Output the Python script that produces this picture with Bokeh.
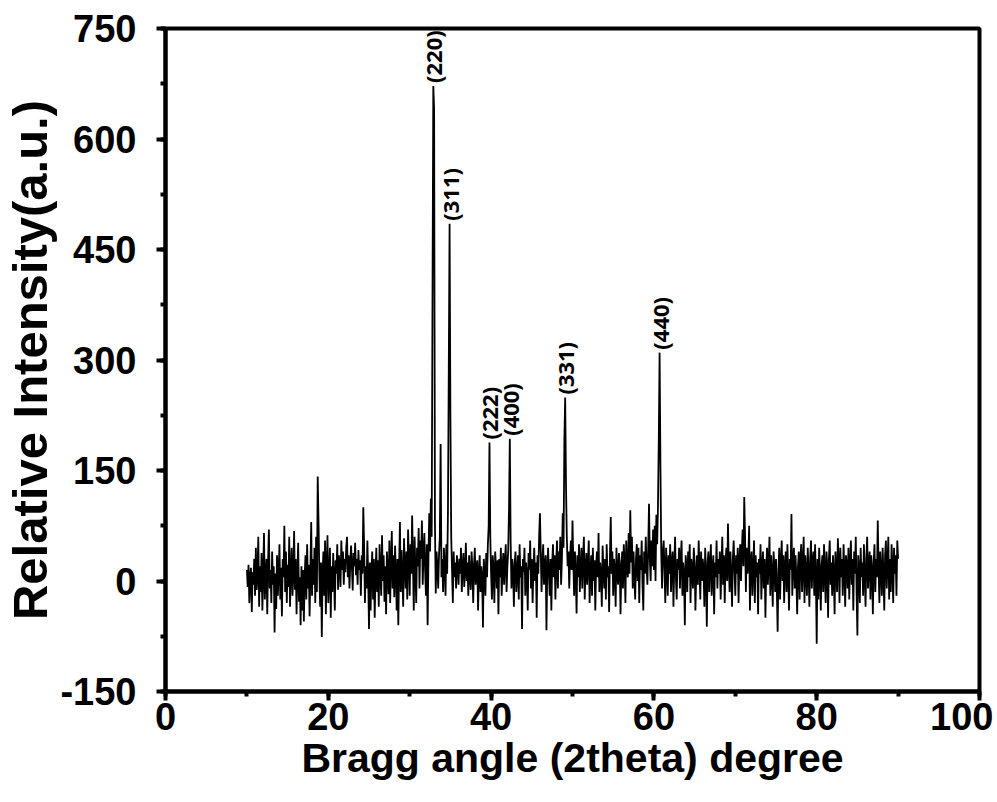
import math
from bokeh.plotting import figure
from bokeh.models import Range1d, SingleIntervalTicker, ColumnDataSource, CustomJSTickFormatter
from bokeh.core.properties import value
from bokeh.embed import file_html
from bokeh.resources import INLINE

# ---- data ----
angle_start = 10.0
angle_step = 0.1
intensity = [
    15, -8, 22, -30, 5, 18, -42, 12, -5, 30,          # 10
    -20, 45, -12, 8, 60, -35, 20, -15, 38, -40,       # 11
    10, 65, -25, 5, 30, -45, 25, 70, -10, 15,         # 12
    -30, 40, -5, 20, -70, 10, -38, 35, -20, 12,       # 13
    50, -25, 18, -48, 30, 5, 75, -15, 40, -30,        # 14
    22, -8, 60, -35, 15, 45, -20, 8, 68, -12,         # 15
    30, -45, 10, 52, -28, 5, -60, 20, -40, 15,        # 16
    -55, 8, 35, -25, 50, -10, 22, -48, 12, 80,        # 17
    -20, 30, -5, 45, -30, 60, -15, 142, 80, 10,       # 18
    -35, 25, -76, 12, 40, -20, 55, -45, 18, 62,       # 19
    -30, 8, 45, -50, 20, -15, 38, 5, -40, 28,         # 20
    10, 50, -12, 35, 20, -8, 55, 15, 40, -5,          # 21
    30, 12, 45, 60, 5, 35, -10, 25, 48, 18,           # 22
    -13, 38, 20, 52, 8, 30, -5, 42, 15, 28,           # 23
    -20, 35, 10, 100, 48, -30, 20, -10, 55, 5,        # 24
    -65, 25, -40, 15, 40, -25, 30, -50, 10, 45,       # 25
    -15, 28, -35, 50, 12, -20, 62, 0, 35, -28,        # 26
    20, -45, 40, 10, -18, 55, -30, 25, 68, -10,       # 27
    35, -22, 48, 15, -40, 30, -60, 20, 80, -15,       # 28
    42, 5, -35, 58, 20, -10, 40, -25, 70, 30,         # 29
    -20, 50, 10, 89, 25, -40, 60, 15, -30, 45,        # 30
    20, 72, -10, 55, 30, 82, -5, 40, 65, 12,          # 31
    -20, 50, -60, 30, 92, 40, 112, 60, 383, 672,      # 32
    641, 80, -17, 40, 20, -10, 35, 60, 186, 5,        # 33
    30, -15, 45, 20, -20, 50, 10, 95, 286, 485,       # 34
    227, 60, 15, -30, 40, 5, 25, -10, 35, 20,         # 35
    -5, 30, 10, 45, -15, 20, 38, -8, 15, 52,          # 36
    0, 25, -20, 35, 8, -12, 40, 18, -30, 22,          # 37
    45, -5, 15, 28, -40, 10, 35, -15, 20, 5,          # 38
    -63, 30, 12, -20, 38, 5, 48, 75, 188, 60,         # 39
    10, -25, 35, 15, -30, 40, 20, -10, 28, -45,       # 40
    30, 5, 45, -20, 15, 38, -5, 25, 50, -15,          # 41
    20, 40, 98, 193, 55, -10, 30, 15, -35, 25,        # 42
    40, -15, 10, 35, -25, 50, 5, 20, -65, 30,         # 43
    12, 45, -20, 25, 8, -40, 38, 15, 55, -10,         # 44
    30, -30, 18, 45, 0, 25, -50, 35, 10, 60,          # 45
    92, 40, -15, 25, 50, -5, 20, 35, -67, 15,         # 46
    45, 10, -20, 30, -40, 22, 50, 5, 35, -25,         # 47
    25, 55, -10, 40, 15, 60, -5, 30, 92, 45,          # 48
    190, 249, 132, 60, 20, 40, -10, 30, 55, 15,       # 49
    82, 25, -20, 40, 10, -44, 35, 5, 50, -15,         # 50
    20, 45, -10, 30, 60, -25, 15, 38, -5, 25,         # 51
    55, -30, 10, 35, -20, 45, 0, 28, -40, 20,         # 52
    40, 5, 65, -15, 25, 10, -35, 48, 15, -10,         # 53
    30, -25, 50, 5, 20, -42, 35, 87, 10, 40,          # 54
    -20, 30, 15, -35, 45, 10, -5, 38, 25, -45,        # 55
    15, 40, -10, 50, 25, -30, 55, 20, 5, 65,          # 56
    10, 96, 25, 60, -10, 40, 5, -25, 30, 50,          # 57
    0, 45, -30, 35, 15, 55, -5, -40, 40, 10,          # 58
    60, 20, -5, 45, 105, 30, 0, 55, 20, 70,           # 59
    15, 75, 0, 90, 50, 100, 193, 310, 161, 40,        # 60
    -10, 40, 55, 15, -30, 45, 20, -20, 35, 10,        # 61
    50, -15, 25, 40, -35, 20, 60, 5, -25, 30,         # 62
    15, 45, -10, 30, 55, -20, 25, 10, -60, 35,        # 63
    20, -15, 40, 5, 50, -30, 30, 15, -10, 45,         # 64
    25, -40, 10, 35, -5, 55, 20, -25, 40, 0,          # 65
    30, 15, -35, 45, 10, -62, 25, 40, -15, 20,        # 66
    50, -20, 15, 35, -45, 25, 5, 55, -10, 30,         # 67
    10, 40, -25, 20, 60, -5, 35, -30, 25, 45,         # 68
    0, 78, 20, -15, 40, 10, -35, 30, 55, 15,          # 69
    -20, 35, 10, 45, -30, 25, 50, 0, 40, 70,          # 70
    20, 114, 60, -15, 45, 10, 30, 75, -40, 25,        # 71
    40, -20, 15, 55, -30, 35, 5, 25, -45, 30,         # 72
    10, 50, -25, 20, 40, -10, 30, -50, 15, 45,        # 73
    -5, 25, 60, -20, 35, 10, -35, 40, 20, -15,        # 74
    30, -10, -69, 15, 45, -25, 25, 55, 0, 35,         # 75
    -30, 20, 40, -15, 50, 10, -40, 30, 15, 91,        # 76
    -20, 25, 45, -10, 35, 5, -45, 20, 40, -25,        # 77
    30, 50, -15, 20, 60, -30, 35, 10, -20, 45,        # 78
    15, -35, 30, 55, -10, 25, 40, -20, 50, 5,         # 79
    -85, 30, -25, 45, 15, -40, 20, 35, -15, 50,       # 80
    10, -30, 40, 20, -50, 30, 55, -5, 25, -20,        # 81
    35, 10, -45, 40, 20, -15, 58, 25, -30, 45,        # 82
    5, 30, -20, 50, 15, -35, 35, 20, -10, 45,         # 83
    -25, 25, 55, -5, 30, -40, 40, 10, 60, -15,        # 84
    -74, 35, 15, -30, 45, 5, 25, -20, 50, 10,         # 85
    -35, 30, 60, -10, 20, 40, -25, 35, 15, -45,       # 86
    25, 50, -15, 30, 5, 82, 20, -30, 40, 15,          # 87
    -20, 45, 10, -40, 35, 55, -10, 25, 60, -25,       # 88
    30, -15, 50, 20, -30, 45, 10, 35, -20, 55,        # 89
    30,                                                # 90
]
two_theta = [round(angle_start + angle_step * i, 2) for i in range(len(intensity))]

peak_labels = ["(220)", "(311)", "(222)", "(400)", "(331)", "(440)"]
peak_x = [32.9, 34.9, 39.8, 42.3, 49.1, 60.7]
peak_y = [672, 485, 188, 193, 249, 310]

x_ticks_interval = 20
y_ticks_interval = 150

# ---- figure ----
p = figure(width=993, height=800,
           x_range=Range1d(0, 100), y_range=Range1d(-150, 750),
           output_backend="svg", toolbar_location=None,
           min_border_left=161, min_border_right=14,
           min_border_top=28, min_border_bottom=109,
           background_fill_color="white", border_fill_color="white")

p.grid.visible = False
p.outline_line_color = "black"
p.outline_line_width = 4
p.outline_line_alpha = 1.0

p.xaxis.ticker = SingleIntervalTicker(interval=x_ticks_interval, num_minor_ticks=2)
p.yaxis.ticker = SingleIntervalTicker(interval=y_ticks_interval, num_minor_ticks=2)
p.yaxis.formatter = CustomJSTickFormatter(code="return tick.toString();")

for ax in (p.xaxis[0], p.yaxis[0]):
    ax.axis_line_width = 4
    ax.axis_line_color = "black"
    ax.major_tick_line_width = 4
    ax.major_tick_in = 0
    ax.major_tick_out = 9
    ax.minor_tick_line_width = 4
    ax.minor_tick_in = 0
    ax.minor_tick_out = 5
    ax.major_label_text_font = "Liberation Sans"
    ax.major_label_text_font_style = "bold"
    ax.major_label_text_font_size = "38px"
    ax.major_label_text_color = "black"
    ax.axis_label_text_font = "Liberation Sans"
    ax.axis_label_text_font_style = "bold"
    ax.axis_label_text_color = "black"

p.xaxis.axis_label = "Bragg angle (2theta) degree"
p.xaxis.axis_label_text_font_size = "41px"
p.xaxis.major_label_standoff = 2
p.xaxis.axis_label_standoff = 2

p.yaxis.axis_label = "Relative Intensity(a.u.)"
p.yaxis.axis_label_text_font_size = "49px"
p.yaxis.major_label_standoff = 20
p.yaxis.axis_label_standoff = 0

src = ColumnDataSource(dict(x=two_theta, y=intensity))
p.line("x", "y", source=src, line_color="black", line_width=1.8)

lab = ColumnDataSource(dict(x=peak_x, y=peak_y, t=peak_labels))
p.text("x", "y", text="t", source=lab, angle=math.pi / 2,
       text_align="left", text_baseline="middle",
       text_font=value("Open Sans"), text_font_style="bold",
       text_font_size="22px", text_color="black", y_offset=-3)

open("out.html", "w").write(file_html(p, INLINE))
